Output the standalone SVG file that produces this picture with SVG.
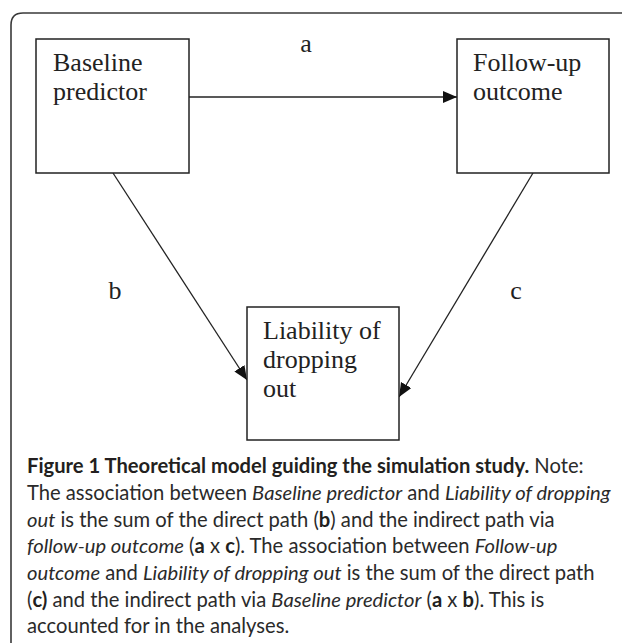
<svg xmlns="http://www.w3.org/2000/svg" width="622" height="643" viewBox="0 0 622 643">
<style>
.frame{fill:none;stroke:#3a3a3a;stroke-width:1.6}
.box{fill:#fff;stroke:#222;stroke-width:1.5}
.lbl{font-family:"Liberation Serif","Times New Roman",serif;font-size:26px;fill:#222}
.edge{stroke:#222;stroke-width:1.3;fill:none}
.cap{font-family:Lato,"Open Sans",sans-serif;font-size:20.2px;fill:#2a2a2a}
.b{font-weight:bold;fill:#231f20}
.i{font-style:italic}
</style>
<defs>
<marker id="arr" markerUnits="userSpaceOnUse" markerWidth="16" markerHeight="14" refX="14" refY="6" orient="auto">
<path d="M0,0 L14,6 L0,12 Z" fill="#111"/>
</marker>
</defs>
<rect width="622" height="643" fill="#fff"/>
<path class="frame" d="M11,643 V25 Q11,13 23,13 H622"/>
<g id="connectors">
<line class="edge" x1="189" y1="97" x2="457" y2="97" marker-end="url(#arr)"/>
<line class="edge" x1="113" y1="173" x2="247" y2="380" marker-end="url(#arr)"/>
<line class="edge" x1="533" y1="173" x2="399" y2="397" marker-end="url(#arr)"/>
<text class="lbl" x="306" y="52" text-anchor="middle">a</text>
<text class="lbl" x="115" y="299" text-anchor="middle">b</text>
<text class="lbl" x="516" y="299" text-anchor="middle">c</text>
</g>
<g id="baseline">
<rect class="box" x="36" y="39" width="153" height="134"/>
<text class="lbl" x="53" y="71">Baseline</text>
<text class="lbl" x="53" y="100">predictor</text>
</g>
<g id="followup">
<rect class="box" x="457" y="39" width="152" height="134"/>
<text class="lbl" x="473" y="71">Follow-up</text>
<text class="lbl" x="473" y="100">outcome</text>
</g>
<g id="liability">
<rect class="box" x="247" y="307" width="152" height="133"/>
<text class="lbl" x="263" y="339">Liability of</text>
<text class="lbl" x="263" y="368">dropping</text>
<text class="lbl" x="263" y="397">out</text>
</g>
<g id="caption" class="cap">
<text x="27" y="473"><tspan class="b">Figure 1 Theoretical model guiding the simulation study.</tspan> Note:</text>
<text x="27" y="500">The association between <tspan class="i">Baseline predictor</tspan> and <tspan class="i">Liability of dropping</tspan></text>
<text x="27" y="526.5"><tspan class="i">out</tspan> is the sum of the direct path (<tspan class="b">b</tspan>) and the indirect path via</text>
<text x="27" y="553"><tspan class="i">follow-up outcome</tspan> (<tspan class="b">a</tspan> x <tspan class="b">c</tspan>). The association between <tspan class="i">Follow-up</tspan></text>
<text x="27" y="580"><tspan class="i">outcome</tspan> and <tspan class="i">Liability of dropping out</tspan> is the sum of the direct path</text>
<text x="27" y="606.5">(<tspan class="b">c)</tspan> and the indirect path via <tspan class="i">Baseline predictor</tspan> (<tspan class="b">a</tspan> x <tspan class="b">b</tspan>). This is</text>
<text x="27" y="633">accounted for in the analyses.</text>
</g>
</svg>
